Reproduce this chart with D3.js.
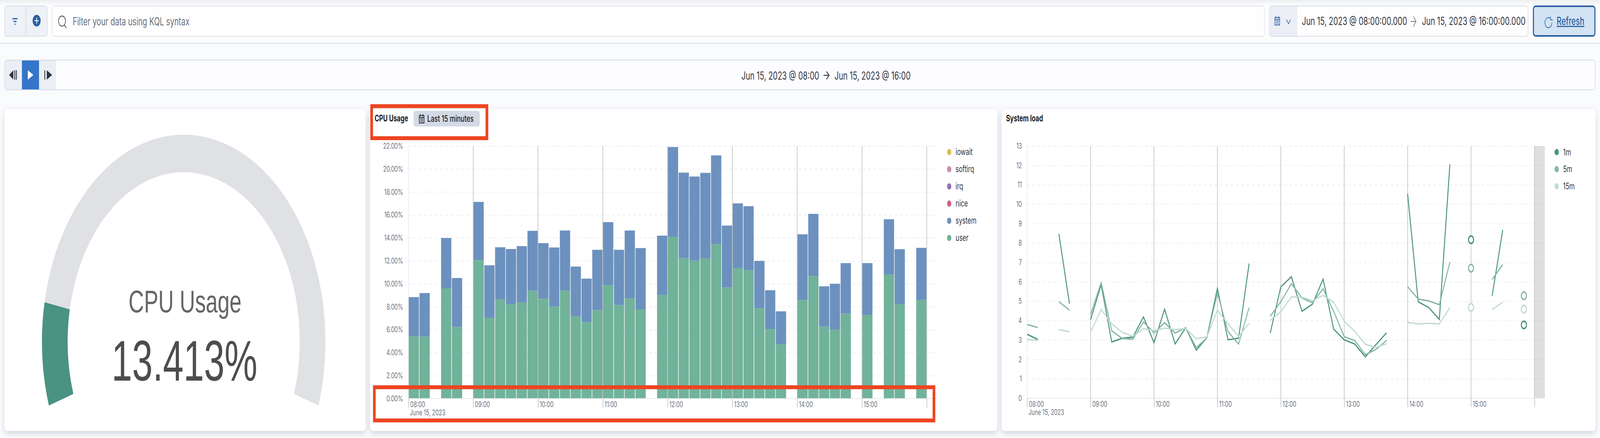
<!DOCTYPE html>
<html>
<head>
<meta charset="UTF-8">
<title>Dashboard</title>
<script src="https://cdn.jsdelivr.net/npm/d3@7"></script>
<style>
  html, body { margin: 0; padding: 0; background: #fff; overflow: hidden; }
  text { font-family: Inter, "Noto Sans", sans-serif; }
  svg { display: block; }
</style>
</head>
<body>
<script>
// 10 minute slots of the time range
var slots = ["08:00","08:10","08:20","08:30","08:40","08:50","09:00","09:10","09:20","09:30","09:40","09:50",
  "10:00","10:10","10:20","10:30","10:40","10:50","11:00","11:10","11:20","11:30","11:40","11:50",
  "12:00","12:10","12:20","12:30","12:40","12:50","13:00","13:10","13:20","13:30","13:40","13:50",
  "14:00","14:10","14:20","14:30","14:40","14:50","15:00","15:10","15:20","15:30","15:40","15:50"];
var hourTicks = ["08:00","09:00","10:00","11:00","12:00","13:00","14:00","15:00","16:00"];

var cpuUser = [5.43,5.39,null,9.59,6.24,null,12.06,7.04,8.63,8.22,8.37,9.4,8.69,8.01,9.4,7.15,6.65,7.7,9.89,8.15,8.73,7.75,null,9.04,
  14.08,12.25,12.02,12.21,13.46,9.68,11.39,11.18,7.88,6.05,4.74,null,8.6,10.66,6.27,6.01,7.4,null,7.27,null,10.81,8.22,null,8.58];
var cpuSystem = [3.41,3.8,null,4.4,4.26,null,5.07,4.57,4.55,4.81,4.91,5.21,4.85,5.15,5.24,4.35,3.8,5.26,5.48,4.81,5.91,5.36,null,5.15,
  7.83,7.43,7.32,7.45,7.72,5.39,5.61,5.58,4.11,3.39,2.86,null,5.71,5.43,3.51,3.99,4.4,null,4.53,null,4.81,4.79,null,4.55];
var cpuTicks = [0,2,4,6,8,10,12,14,16,18,20,22];
var cpuLegend = ["iowait","softirq","irq","nice","system","user"];
var cpuLegendColors = ["#D6BF57","#CA8EAE","#9170B8","#D36086","#6C91BE","#71B29A"];

var load1 = [3.29,3.03,null,8.47,4.87,null,4.05,5.85,2.9,3.09,3.15,4.19,2.86,4.59,2.8,3.63,2.47,3.12,5.66,3.01,3.09,6.94,null,3.36,
  5.74,6.26,4.48,4.85,6.14,3.56,3.01,2.79,2.13,2.76,3.37,null,10.53,4.97,4.67,4.06,12.06,null,8.17,null,5.27,8.68,null,3.78];
var load5 = [3.8,3.64,null,4.97,4.54,null,4.32,5.96,3.47,3.08,3.04,3.93,3.37,3.89,3.36,3.63,2.6,3.11,5.41,3.44,2.79,4.67,null,4.22,
  4.97,5.9,5.17,4.92,5.64,4.48,3.17,2.97,2.24,2.51,2.98,null,5.75,5.11,5.01,4.82,7.02,null,6.7,null,6.12,6.89,null,5.28];
var load15 = [3.03,2.98,null,3.53,3.43,null,3.41,4.57,3.83,3.39,3.19,3.58,3.48,3.61,3.53,3.59,3.07,3.16,4.54,3.83,3.19,3.86,null,4.02,
  4.45,5.22,5.2,5.03,5.3,4.94,3.98,3.44,2.78,2.62,2.81,null,3.91,3.83,3.86,3.83,4.67,null,4.68,null,4.57,4.94,null,4.59];
var loadTicks = [0,1,2,3,4,5,6,7,8,9,10,11,12,13];
var loadLegend = ["1m","5m","15m"];
var loadColors = ["#4A9281","#86B5A6","#C0DBD1"];

var gaugeValue = 13.413;
var gaugeMax = 100;

var W = 5984, H = 1122;
var parseT = d3.timeParse("%H:%M");

// the window can come up narrower than asked for (4096 here), so fit the
// 5984x1122 drawing to whatever window we really got
var svg = d3.select("body").append("svg")
  .attr("width", window.innerWidth).attr("height", window.innerHeight)
  .attr("viewBox", "0 0 " + W + " " + H).attr("preserveAspectRatio", "none");

var defs = svg.append("defs");
var grad = defs.append("linearGradient").attr("id", "topfade").attr("x1", 0).attr("x2", 0).attr("y1", 0).attr("y2", 1);
grad.append("stop").attr("offset", 0).attr("stop-color", "#EDEEF0");
grad.append("stop").attr("offset", 1).attr("stop-color", "#FDFDFE");
var shadow = defs.append("filter").attr("id", "panelshadow").attr("x", "-5%").attr("y", "-5%").attr("width", "110%").attr("height", "110%");
shadow.append("feDropShadow").attr("dx", 0).attr("dy", 6).attr("stdDeviation", 9).attr("flood-color", "#98A2B3").attr("flood-opacity", 0.45);

// page background
svg.append("rect").attr("width", W).attr("height", H).attr("fill", "#FAFBFD");
svg.append("rect").attr("width", W).attr("height", 111).attr("fill", "#FDFDFE");
svg.append("rect").attr("width", W).attr("height", 14).attr("fill", "url(#topfade)");
svg.append("rect").attr("y", 110).attr("width", W).attr("height", 2).attr("fill", "#D3DAE6");

function box(x0, y0, x1, y1, fill, stroke, sw, r) {
  return svg.append("rect").attr("x", x0).attr("y", y0).attr("width", x1 - x0).attr("height", y1 - y0)
    .attr("fill", fill).attr("stroke", stroke).attr("stroke-width", sw).attr("rx", r);
}
function label(x, y, s, size, color, weight, anchor) {
  return svg.append("text").attr("x", x).attr("y", y).text(s)
    .attr("font-size", size).attr("fill", color).attr("font-weight", weight || 400).attr("text-anchor", anchor || "start");
}
function icon(x, y, d, stroke, fill, sw) {
  return svg.append("path").attr("transform", "translate(" + x + "," + y + ")").attr("d", d)
    .attr("stroke", stroke).attr("fill", fill).attr("stroke-width", sw || 2);
}
function calendar(x, y, color) {
  // 20x24 glyph
  var d = "M1,4H19V23H1ZM1,9H19M5,0V6M15,0V6";
  icon(x, y, d, color, "none", 2);
  for (var r = 0; r < 3; r++) for (var c = 0; c < 3; c++) {
    svg.append("rect").attr("x", x + 5 + c * 4).attr("y", y + 11 + r * 3.5).attr("width", 2.4).attr("height", 2.2).attr("fill", color);
  }
}

// --- query bar
box(17, 15, 177, 93, "#EEF1F6", "#D8DDE8", 2, 8);
svg.append("line").attr("x1", 97).attr("x2", 97).attr("y1", 15).attr("y2", 93).attr("stroke", "#D3DAE6").attr("stroke-width", 2);
icon(46, 46, "M0,2H20M4,9H16M8,16H12", "#2B5FA0", "none", 3);
svg.append("circle").attr("cx", 137).attr("cy", 53).attr("r", 15).attr("fill", "#2B5FA0");
icon(137, 53, "M-8,0H8M0,-8V8", "#fff", "none", 2.5);
box(196, 15, 4729, 93, "#FEFEFE", "#DFE3EC", 2, 8);
icon(218, 41, "M14,0A13,13 0 1,0 14.01,26A13,13 0 1,0 14,0M23,23L30,31", "#343741", "none", 2);
label(272, 65, "Filter your data using KQL syntax", 28, "#6A717D");

box(4748, 15, 5715, 93, "#FEFEFE", "#D3DAE6", 2, 8);
svg.append("path").attr("d", "M4756,16H4852V92H4756Q4749,92 4749,85V23Q4749,16 4756,16Z").attr("fill", "#EBEEF5");
calendar(4767, 41, "#2B5FA0");
icon(4811, 50, "M0,0L8,11L16,0", "#2B5FA0", "none", 2);
label(4869, 64, "Jun 15, 2023 @ 08:00:00.000", 28, "#343741");
icon(5276, 55, "M0,0H20M10,-13L20,0L10,13", "#69707D", "none", 2);
label(5318, 64, "Jun 15, 2023 @ 16:00:00.000", 28, "#343741");

box(5735, 16, 5965, 92, "#D2E3F4", "#2B5FA0", 4, 8);
icon(5780, 42, "M18,5A13,13 0 1,0 24,16M19,0V9H27", "#2B5FA0", "none", 2);
label(5822, 64, "Refresh", 28, "#2B5FA0", 500).style("text-decoration", "underline");

// --- time player
box(17, 154, 5966, 230, "#FDFDFF", "#D3DAE6", 2, 8);
svg.append("path").attr("d", "M24,155H82V229H24Q18,229 18,223V161Q18,155 24,155Z").attr("fill", "#EBEEF5");
svg.append("rect").attr("x", 82).attr("y", 155).attr("width", 64).attr("height", 74).attr("fill", "#3575C9");
svg.append("rect").attr("x", 146).attr("y", 155).attr("width", 64).attr("height", 74).attr("fill", "#EBEEF5");
icon(34, 180, "M16,0V24L0,12ZM20,0H23V24H20ZM26,0H29V24H26Z", "none", "#2D3540");
icon(104, 180, "M0,0L21,12L0,24Z", "none", "#FFFFFF");
icon(166, 180, "M0,0H3V24H0ZM9,0L29,12L9,24Z", "none", "#2D3540");
label(2773, 204, "Jun 15, 2023 @ 08:00", 28, "#343741");
icon(3080, 193, "M0,0H21M11,-10L21,0L11,10", "#343741", "none", 2.5);
label(3121, 204, "Jun 15, 2023 @ 16:00", 28, "#343741");

// --- panels
[[16, 1368], [1384, 3730], [3746, 5968]].forEach(function(p) {
  box(p[0], 280, p[1], 1104, "#FFFFFF", "none", 0, 12).attr("filter", "url(#panelshadow)");
});
svg.append("rect").attr("y", 1120).attr("width", W).attr("height", 2).attr("fill", "#FFFFFF");

// --- gauge
var gauge = svg.append("g").attr("transform", "translate(687,875)");
var angle = d3.scaleLinear().domain([0, gaugeMax]).range([-108 * Math.PI / 180, 108 * Math.PI / 180]);
var arc = d3.arc().innerRadius(434).outerRadius(530);
gauge.append("path").attr("d", arc({startAngle: angle(0), endAngle: angle(gaugeMax)})).attr("fill", "#E0E1E5");
gauge.append("path").attr("d", arc({startAngle: angle(0), endAngle: angle(gaugeValue)})).attr("fill", "#4A9281");
label(692, 800, "CPU Usage", 80, "#666666", 400, "middle").style("font-family", "'Liberation Sans', Arial, sans-serif");
label(690, 975, gaugeValue.toFixed(3) + "%", 146, "#4D4D4D", 400, "middle").style("font-family", "'Liberation Sans', Arial, sans-serif")
  .attr("textLength", 545).attr("lengthAdjust", "spacingAndGlyphs");

// common axis drawing, returns the scales
function chart(cfg) {
  var x = d3.scaleTime().domain([parseT("08:00"), parseT("16:00")]).range([cfg.x0, cfg.x1]);
  var y = d3.scaleLinear().domain(cfg.yDomain).range([cfg.y0, cfg.y1]);

  var yAxis = d3.axisLeft(y).tickValues(cfg.yTicks).tickSize(0).tickPadding(20).tickFormat(cfg.yFormat);
  var gy = svg.append("g").attr("transform", "translate(" + cfg.x0 + ",0)").call(yAxis);
  gy.select(".domain").remove();
  gy.selectAll("text").attr("font-size", 20).attr("fill", "#69707D").style("font-family", "Inter");
  gy.selectAll(".tick").filter(function(d) { return d != cfg.yDomain[0]; }).append("line")
    .attr("x1", 0).attr("x2", cfg.gridEnd - cfg.x0).attr("stroke", "#EBEDF3").attr("stroke-width", 2).attr("stroke-dasharray", "10 10");

  return {x: x, y: y};
}
function hourLines(c, cfg) {
  var ticks = hourTicks.map(parseT);
  var g = svg.append("g");
  g.selectAll("line.hr").data(ticks.slice(1)).enter().append("line").attr("class", "hr")
    .attr("x1", c.x).attr("x2", c.x).attr("y1", cfg.y1).attr("y2", cfg.y0).attr("stroke", "#B8B8B8").attr("stroke-width", 2);
  g.append("line").attr("x1", cfg.x0).attr("x2", cfg.x0).attr("y1", cfg.y1).attr("y2", cfg.y0)
    .attr("stroke", "#E6E8EE").attr("stroke-width", 2);

  var xAxis = d3.axisBottom(c.x).tickValues(ticks).tickSize(23)
    .tickFormat(function(d) { var s = d3.timeFormat("%H:%M")(d); return s == "16:00" ? "" : s; });
  var gx = svg.append("g").attr("transform", "translate(0," + cfg.y0 + ")").call(xAxis);
  gx.select(".domain").attr("d", "M" + cfg.x0 + ",0H" + cfg.axisEnd).attr("stroke", "#E6E8EE").attr("stroke-width", 2);
  gx.selectAll(".tick line").attr("stroke", "#B8B8B8").attr("stroke-width", 2);
  gx.selectAll("text").attr("font-size", 20).attr("fill", "#69707D").attr("text-anchor", "start")
    .attr("x", 6).attr("y", 22).attr("dy", 0).style("font-family", "Inter");
  label(cfg.x0 + 5, cfg.y0 + 43, "June 15, 2023", 20, "#69707D");
}
function legend(items, colors, xDot, yStart, step) {
  var g = svg.append("g");
  g.selectAll("circle").data(items).enter().append("circle")
    .attr("cx", xDot).attr("cy", function(d, i) { return yStart + i * step; }).attr("r", 8)
    .attr("fill", function(d, i) { return colors[i]; });
  g.selectAll("text").data(items).enter().append("text")
    .attr("x", xDot + 24).attr("y", function(d, i) { return yStart + i * step + 8; })
    .attr("font-size", 23).attr("fill", "#343741").text(function(d) { return d; });
}

// --- CPU usage bars
var cpuCfg = {x0: 1527.5, x1: 3466, y0: 1021, y1: 374, yDomain: [0, 22], yTicks: cpuTicks, gridEnd: 3504, axisEnd: 3506,
  yFormat: function(d) { return d.toFixed(2) + "%"; }};
var cpu = chart(cpuCfg);
var rows = slots.map(function(s, i) { return {t: parseT(s), user: cpuUser[i], system: cpuSystem[i]}; })
  .filter(function(d) { return d.user != null; });
var barW = (cpu.x(parseT("08:10")) - cpu.x(parseT("08:00"))) - 2;
svg.append("g").selectAll("rect").data(rows).enter().append("rect")
  .attr("x", function(d) { return cpu.x(d.t) + 1; }).attr("width", barW)
  .attr("y", function(d) { return cpu.y(d.user); })
  .attr("height", function(d) { return cpu.y(0) - cpu.y(d.user); }).attr("fill", "#71B29A");
svg.append("g").selectAll("rect").data(rows).enter().append("rect")
  .attr("x", function(d) { return cpu.x(d.t) + 1; }).attr("width", barW)
  .attr("y", function(d) { return cpu.y(d.user + d.system); })
  .attr("height", function(d) { return cpu.y(d.user) - cpu.y(d.user + d.system); }).attr("fill", "#6C91BE");
hourLines(cpu, cpuCfg);
legend(cpuLegend, cpuLegendColors, 3550, 389.5, 44);

label(1401, 311, "CPU Usage", 23, "#1A1C21", 700);
box(1547, 284, 1794, 324, "#D3DAE6", "none", 0, 6);
calendar(1567, 292, "#1A1C21");
label(1598, 312, "Last 15 minutes", 23.5, "#1A1C21", 500);

// --- System load lines
var loadCfg = {x0: 3841.7, x1: 5738.8, y0: 1020, y1: 374, yDomain: [0, 13], yTicks: loadTicks, gridEnd: 5770, axisEnd: 5778,
  yFormat: function(d) { return d; }};
var load = chart(loadCfg);
svg.append("rect").attr("x", load.x(parseT("16:00"))).attr("y", load.y(13)).attr("width", 39)
  .attr("height", load.y(0) - load.y(13)).attr("fill", "#9EA1A8").attr("opacity", 0.34);
hourLines(load, loadCfg);

var line = d3.line().defined(function(d) { return d != null; })
  .x(function(d, i) { return load.x(parseT(slots[i])); }).y(function(d) { return load.y(d); });
[load1, load5, load15].forEach(function(vals, k) {
  svg.append("path").attr("d", line(vals)).attr("fill", "none").attr("stroke", loadColors[k]).attr("stroke-width", 3.5)
    .attr("stroke-linejoin", "miter");
  // slots with no neighbours can only show as a dot
  var lone = slots.filter(function(s, i) {
    return vals[i] != null && vals[i - 1] == null && vals[i + 1] == null;
  });
  svg.append("g").selectAll("circle").data(lone).enter().append("circle")
    .attr("cx", function(s) { return load.x(parseT(s)); })
    .attr("cy", function(s) { return load.y(vals[slots.indexOf(s)]); })
    .attr("r", 9.5).attr("fill", "#fff").attr("stroke", loadColors[k]).attr("stroke-width", 4);
});
legend(loadLegend, loadColors, 5822, 389.6, 43.8);
label(3762.5, 311, "System load", 23, "#1A1C21", 700);

// --- red annotation boxes
box(1390, 272, 1821, 354, "none", "#EE4522", 10, 0);
box(1400, 992, 3493, 1077, "none", "#EE4522", 10, 0);
</script>
</body>
</html>
